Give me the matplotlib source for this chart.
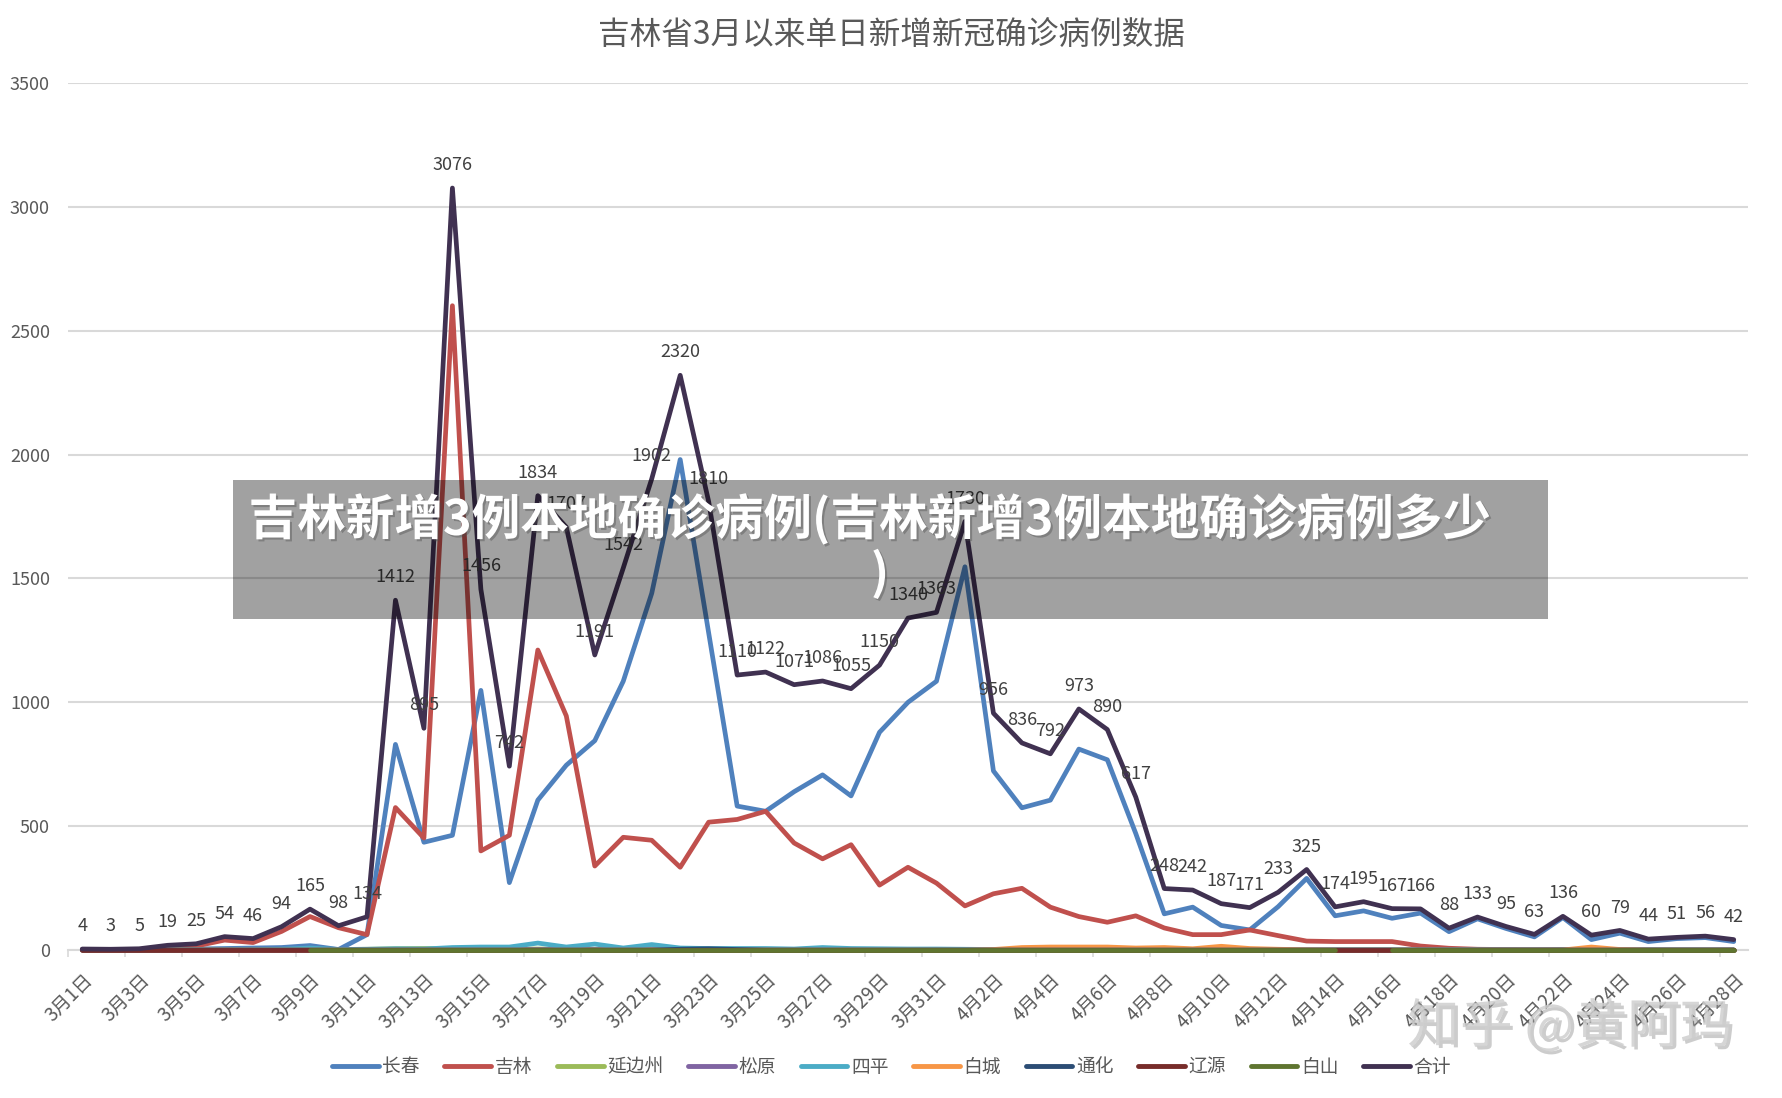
import numpy as np
import matplotlib
matplotlib.use("Agg")
import matplotlib.pyplot as plt
from matplotlib.lines import Line2D
from matplotlib.patches import Rectangle
import matplotlib.patheffects as pe

plt.rcParams['font.family'] = ['Noto Sans CJK SC', 'DejaVu Sans']

# ---------------- data ----------------
dates = [f"3月{d}日" for d in range(1, 32)] + [f"4月{d}日" for d in range(1, 29)]

changchun = [1, 1, 1, 3, 4, 6, 8, 10, 18, 2, 62,
             830, 435, 463, 1048, 272, 605, 746, 845, 1085, 1440,
             1980, 1280, 581, 560, 639, 707, 622, 879, 1000, 1085,
             1547, 723, 574, 605, 811, 768, 470, 146, 173, 99,
             81, 175, 289, 138, 158, 128, 149, 74, 126, 87,
             53, 131, 42, 68, 34, 46, 50, 34]
jilin = [2, 1, 2, 12, 16, 40, 30, 75, 135, 90, 62,
         575, 452, 2601, 400, 463, 1211, 945, 339, 455, 443,
         334, 516, 527, 560, 432, 368, 425, 262, 334, 270,
         178, 227, 249, 173, 135, 112, 138, 89, 62, 62,
         81, 58, 36, 34, 34, 34, 16, 7, 3, 2,
         1, 2, 1, 1, 0, 0, 0, 0]
yanbian = [0, 0, 0, 0, 0, 0, 0, 0, 1, 2, 3,
           5, 6, 5, 4, 3, 4, 3, 3, 2, 2,
           1, 1, 1, 1, 0, 0, 0, 0, 0, 0,
           0, 0, 0, 0, 0, 0, 0, 0, 0, 0,
           0, 0, 0, 0, 0, 0, 0, 0, 0, 0,
           0, 0, 0, 0, 0, 0, 0, 0]
songyuan = [0, 0, 0, 0, 0, 0, 0, 0, 0, 0, 0,
            0, 1, 2, 2, 1, 1, 2, 1, 1, 1,
            1, 0, 0, 0, 0, 0, 0, 0, 0, 0,
            0, 0, 0, 0, 0, 0, 0, 0, 0, 0,
            0, 0, 0, 0, 0, 0, 0, 0, 0, 0,
            0, 0, 0, 0, 0, 0, 0, 0]
siping = [0, 0, 0, 0, 0, 0, 1, 3, 8, 2, 3,
          5, 4, 10, 12, 12, 28, 12, 24, 8, 22,
          8, 6, 6, 6, 4, 10, 6, 5, 4, 4,
          3, 2, 1, 1, 1, 1, 1, 1, 1, 0,
          0, 0, 0, 0, 0, 0, 0, 0, 0, 0,
          0, 0, 0, 0, 0, 0, 0, 0]
baicheng = [0, 0, 0, 0, 0, 0, 0, 0, 0, 0, 0,
            0, 0, 0, 0, 0, 0, 0, 0, 0, 0,
            0, 0, 0, 0, 0, 0, 0, 0, 0, 0,
            0, 2, 10, 12, 12, 12, 8, 10, 5, 15,
            6, 3, 1, 0, 0, 0, 0, 0, 0, 0,
            0, 0, 12, 2, 0, 0, 0, 0]
tonghua = [0, 0, 0, 0, 0, 0, 0, 0, 0, 0, 0,
           0, 0, 0, 0, 0, 0, 0, 0, 0, 0,
           3, 5, 2, 0, 0, 0, 0, 0, 0, 0,
           0, 0, 0, 0, 0, 0, 0, 0, 0, 0,
           0, 0, 0, 0, 0, 0, 0, 0, 0, 0,
           0, 0, 0, 0, 0, 0, 0, 0]
liaoyuan = [0, 0, 0, 0, 0, 0, 0, 0, 0, 0, 0,
            0, 0, 0, 0, 0, 0, 0, 0, 0, 0,
            0, 0, 0, 0, 0, 0, 0, 0, 0, 0,
            0, 0, 0, 0, 0, 0, 0, 0, 0, 0,
            0, 0, 0, 0, 0, 0, 0, 0, 0, 0,
            0, 0, 0, 0, 0, 0, 0, 0]
nan = float('nan')
baishan = [nan, nan, nan, nan, nan, nan, nan, nan, 0, 0, 0,
           0, 0, 0, 0, 0, 0, 0, 0, 0, 0,
           0, 0, 0, 0, 0, 0, 0, 0, 0, 0,
           0, 0, 0, 0, 0, 0, 0, 0, 0, 0,
           0, 0, 0, 0, nan, 0, 0, 0, 0, 0,
           0, 0, 0, 0, 0, 0, 0, 0]
total = [4, 3, 5, 19, 25, 54, 46, 94, 165, 98, 134,
         1412, 895, 3076, 1456, 742, 1834, 1707, 1191, 1542, 1902,
         2320, 1810, 1110, 1122, 1071, 1086, 1055, 1150, 1340, 1363,
         1730, 956, 836, 792, 973, 890, 617, 248, 242, 187,
         171, 233, 325, 174, 195, 167, 166, 88, 133, 95,
         63, 136, 60, 79, 44, 51, 56, 42]

series_names = ["长春", "吉林", "延边州", "松原", "四平", "白城", "通化", "辽源", "白山", "合计"]
series_vals = [changchun, jilin, yanbian, songyuan, siping, baicheng, tonghua, liaoyuan, baishan, total]
colors = ["#4f81bd", "#c0504d", "#9bbb59", "#8064a2", "#4bacc6", "#f79646",
          "#2c4d75", "#772c2a", "#5f7530", "#403151"]
yticks = [0, 500, 1000, 1500, 2000, 2500, 3000, 3500]

title = "吉林省3月以来单日新增新冠确诊病例数据"
banner1 = "吉林新增3例本地确诊病例(吉林新增3例本地确诊病例多少"
banner2 = ")"
watermark = "知乎 @黄阿玛"

# ---------------- figure ----------------
W, H = 1783, 1098
fig = plt.figure(figsize=(W / 100, H / 100), dpi=100)
fig.patch.set_facecolor("white")
ax = fig.add_axes([68 / W, 1 - 950 / H, (1748 - 68) / W, (950 - 83) / H])

x = np.arange(len(dates))
for name, vals, c in zip(series_names, series_vals, colors):
    ax.plot(x, vals, color=c, lw=3.4, solid_joinstyle='round', solid_capstyle='round',
            label=name, zorder=3 if name != "合计" else 4, clip_on=False)

for xi, v in zip(x, total):
    ax.annotate(str(v), (xi, v), xytext=(0, 10), textcoords='offset points',
                ha='center', va='bottom', fontsize=13, color='#404040', zorder=5)

ax.set_xlim(-0.5, len(dates) - 0.5)
ax.set_ylim(0, 3500)
ax.set_yticks(yticks)
ax.set_yticklabels([str(t) for t in yticks])
ax.grid(axis='y', color='#d9d9d9', lw=1.5, zorder=0)
ax.set_axisbelow(True)
for s in ['left', 'right', 'top']:
    ax.spines[s].set_visible(False)
ax.spines['bottom'].set_color('#d9d9d9')
ax.spines['bottom'].set_linewidth(1.5)
ax.tick_params(axis='y', length=0, pad=13, labelsize=13, labelcolor='#595959')

ax.set_xticks(x[::2])
ax.set_xticklabels(dates[::2], rotation=45, ha='right', rotation_mode='anchor',
                   fontsize=13.5, color='#595959')
ax.tick_params(axis='x', which='major', length=0, pad=14)
ax.set_xticks(np.arange(-0.5, len(dates), 2), minor=True)
ax.tick_params(axis='x', which='minor', length=5, width=1.2, color='#d9d9d9')

fig.text(0.5, 1 - 35 / H, title, ha='center', va='center', fontsize=22.8, color='#595959')

handles = [Line2D([0], [0], color=c, lw=3.5, solid_capstyle='round') for c in colors]
fig.legend(handles, series_names, loc='center', bbox_to_anchor=(0.5, 1 - 1067 / H),
           ncol=10, frameon=False, fontsize=13.5, handlelength=2.5, handletextpad=0.2,
           columnspacing=1.3, labelcolor='#595959')

# overlay banner
fig.add_artist(Rectangle((233 / W, 1 - 619 / H), (1548 - 233) / W, (619 - 480) / H,
                         transform=fig.transFigure, facecolor='black', alpha=0.37,
                         edgecolor='none', zorder=10))
fig.text(870 / W, 1 - 519 / H, banner1, ha='center', va='center', fontsize=35,
         fontweight='bold', color='white', zorder=11,
         path_effects=[pe.withSimplePatchShadow(offset=(1.5, -1.5), alpha=0.4)])
fig.text(880 / W, 1 - 574 / H, banner2, ha='center', va='center', fontsize=35,
         fontweight='bold', color='white', zorder=11,
         path_effects=[pe.withSimplePatchShadow(offset=(1.5, -1.5), alpha=0.4)])

fig.text(1570 / W, 1 - 1027 / H, watermark, ha='center', va='center', fontsize=38,
         color='#cfcfcf', alpha=0.85, zorder=11,
         path_effects=[pe.withSimplePatchShadow(offset=(2, -2), shadow_rgbFace='#9a9a9a', alpha=0.5)])

fig.savefig("out.png", dpi=100)
